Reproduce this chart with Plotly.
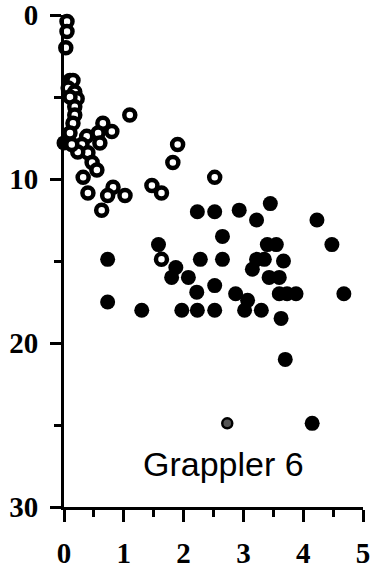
import plotly.graph_objects as go

# Open circles (shallow / light-coloured samples)
open_x = [0.05, 0.05, 0.03, 0.10, 0.15, 0.07, 0.18, 0.22, 0.10, 0.18, 0.18, 0.15,
          0.10, 0.38, 0.65, 0.80, 0.57, 0.60, 0.30, 0.40, 0.23, 0.47, 0.55, 0.13,
          1.10, 1.90, 1.82, 0.32, 0.40, 0.82, 0.73, 1.02, 1.47, 1.63, 0.63, 2.52,
          1.63]
open_y = [0.4, 1.0, 2.0, 4.0, 4.0, 4.45, 4.7, 5.1, 5.0, 5.6, 6.1, 6.6,
          7.2, 7.4, 6.6, 7.1, 7.2, 7.8, 7.9, 8.4, 8.35, 9.0, 9.45, 7.9,
          6.1, 7.9, 9.0, 9.9, 10.85, 10.5, 11.0, 11.0, 10.4, 10.85, 11.9, 9.9,
          14.9]

# Filled circles
filled_x = [0.0, 2.23, 2.52, 2.93, 3.45, 3.22, 4.23, 1.58, 2.65, 3.40, 3.55, 4.48,
            0.73, 2.28, 2.65, 3.22, 3.35, 3.67, 3.15, 1.87, 1.80, 2.08, 3.43, 3.60,
            2.52, 2.22, 2.87, 3.60, 3.73, 3.88, 4.68, 3.07, 0.73, 1.30, 1.97, 2.23,
            2.52, 3.02, 3.30, 3.63, 3.70, 4.15]
filled_y = [7.8, 12.0, 12.0, 11.9, 11.5, 12.5, 12.5, 14.0, 13.5, 14.0, 14.0, 14.0,
            14.9, 14.9, 14.9, 14.9, 14.9, 15.0, 15.5, 15.4, 16.0, 16.0, 16.0, 16.0,
            16.5, 16.9, 17.0, 17.0, 17.0, 17.0, 17.0, 17.4, 17.5, 18.0, 18.0, 18.0,
            18.0, 18.0, 18.0, 18.5, 21.0, 24.9]

# Grey-filled circle
grey_x = [2.73]
grey_y = [24.9]

x_ticks = [0, 1, 2, 3, 4, 5]
y_ticks = [0, 10, 20, 30]
panel_label = "Grappler 6"

fig = go.Figure()

fig.add_trace(go.Scatter(
    x=filled_x, y=filled_y, mode="markers", cliponaxis=False,
    marker=dict(symbol="circle", size=15, color="black", line=dict(width=0)),
    showlegend=False, hoverinfo="skip"))

fig.add_trace(go.Scatter(
    x=grey_x, y=grey_y, mode="markers", cliponaxis=False,
    marker=dict(symbol="circle", size=10, color="#555555",
                line=dict(width=2.5, color="black")),
    showlegend=False, hoverinfo="skip"))

fig.add_trace(go.Scatter(
    x=open_x, y=open_y, mode="markers", cliponaxis=False,
    marker=dict(symbol="circle", size=11, color="white",
                line=dict(width=4.5, color="black")),
    showlegend=False, hoverinfo="skip"))

fig.add_annotation(
    x=2.67, y=27.4, xref="x", yref="y", text=panel_label, showarrow=False,
    xanchor="center", yanchor="middle",
    font=dict(family="Liberation Sans, Arial, sans-serif", size=34, color="black"))

tick_font = dict(family="Liberation Serif, Times New Roman, serif", size=29,
                 color="black", weight="bold")

fig.update_layout(
    width=372, height=568,
    margin=dict(l=64, r=9, t=15, b=61, autoexpand=False),
    paper_bgcolor="white", plot_bgcolor="white",
    xaxis=dict(
        range=[0, 5], tickvals=x_ticks, ticktext=[str(v) for v in x_ticks],
        showgrid=False, zeroline=False, automargin=False,
        showline=True, linewidth=3, linecolor="black",
        ticks="outside", ticklen=12, tickwidth=3, tickcolor="black",
        ticklabelstandoff=6, ticklabeloverflow="allow",
        minor=dict(dtick=0.5, ticks="outside", ticklen=7, tickwidth=3,
                   tickcolor="black", showgrid=False),
        tickfont=tick_font),
    yaxis=dict(
        range=[30, 0], tickvals=y_ticks, ticktext=[str(v) for v in y_ticks],
        showgrid=False, zeroline=False, automargin=False,
        showline=True, linewidth=3, linecolor="black",
        ticks="outside", ticklen=11, tickwidth=3, tickcolor="black",
        ticklabelstandoff=6, ticklabeloverflow="allow",
        minor=dict(dtick=5, ticks="outside", ticklen=7, tickwidth=3,
                   tickcolor="black", showgrid=False),
        tickfont=tick_font),
)

fig.write_html("out.html")
